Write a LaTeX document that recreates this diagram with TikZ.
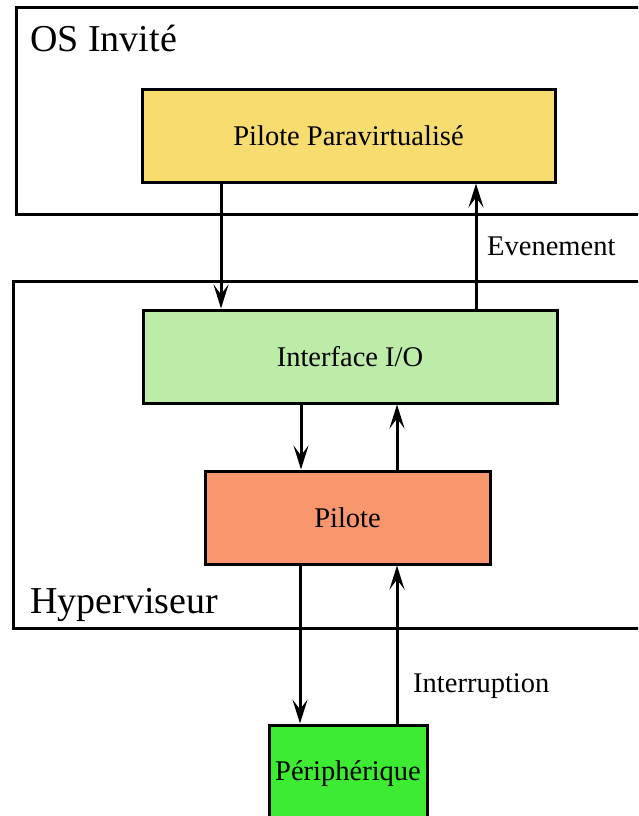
\documentclass[tikz,border=0pt]{standalone}
\usepackage{fontspec}
\setmainfont{Liberation Serif}
\usepackage{tikz}
\usetikzlibrary{arrows.meta}

\definecolor{guestyellow}{RGB}{247,220,111}
\definecolor{iogreen}{RGB}{189,235,168}
\definecolor{drvsalmon}{RGB}{248,151,110}
\definecolor{devgreen}{RGB}{60,235,50}

\begin{document}
\begin{tikzpicture}[x=1pt,y=-1pt]
\tikzset{frame/.style = {draw,line width=3pt}}
\tikzset{block/.style = {shape=rectangle,draw,line width=3pt,minimum height=93pt,
  font=\fontsize{28.5}{32}\selectfont}}
\tikzset{title/.style = {anchor=base west,inner sep=0pt,font=\fontsize{38}{44}\selectfont}}
\tikzset{lbl/.style = {anchor=base west,inner sep=0pt,font=\fontsize{28.5}{32}\selectfont}}
\tikzset{edge/.style = {-{Stealth[length=24pt,width=15pt,inset=10pt]},line width=3pt}}
\useasboundingbox (0,0) rectangle (638,816);
\clip (0,0) rectangle (638,816);
% cadres
\draw[frame] (16,8) rectangle (670,214);
\draw[frame] (13,281) rectangle (670,628);
\node[title] (guest) at (30,52) {OS Invité};
\node[title] (hyp) at (30,613) {Hyperviseur};
% blocs
\node[block,fill=guestyellow,minimum width=413pt] (pilpv) at (348.5,135.5) {Pilote Paravirtualisé};
\node[block,fill=iogreen,minimum width=414pt] (io) at (350,356.5) {Interface I/O};
\node[block,fill=drvsalmon,minimum width=285pt] (pil) at (347.5,517.5) {Pilote};
\node[block,fill=devgreen,minimum width=158pt,minimum height=97pt] (peri) at (348,773.5) {Périphérique};
% fleches
\draw[edge] (pilpv.south -| 221,0) to (io.north -| 221,0);
\draw[edge] (io.north -| 476,0) to (pilpv.south -| 476,0);
\draw[edge] (io.south -| 301,0) to (pil.north -| 301,0);
\draw[edge] (pil.north -| 397,0) to (io.south -| 397,0);
\draw[edge] (pil.south -| 300,0) to (peri.north -| 300,0);
\draw[edge] (peri.north -| 397,0) to (pil.south -| 397,0);
\node[lbl] (evt) at (487,255) {Evenement};
\node[lbl] (irq) at (413,692) {Interruption};
\end{tikzpicture}
\end{document}
